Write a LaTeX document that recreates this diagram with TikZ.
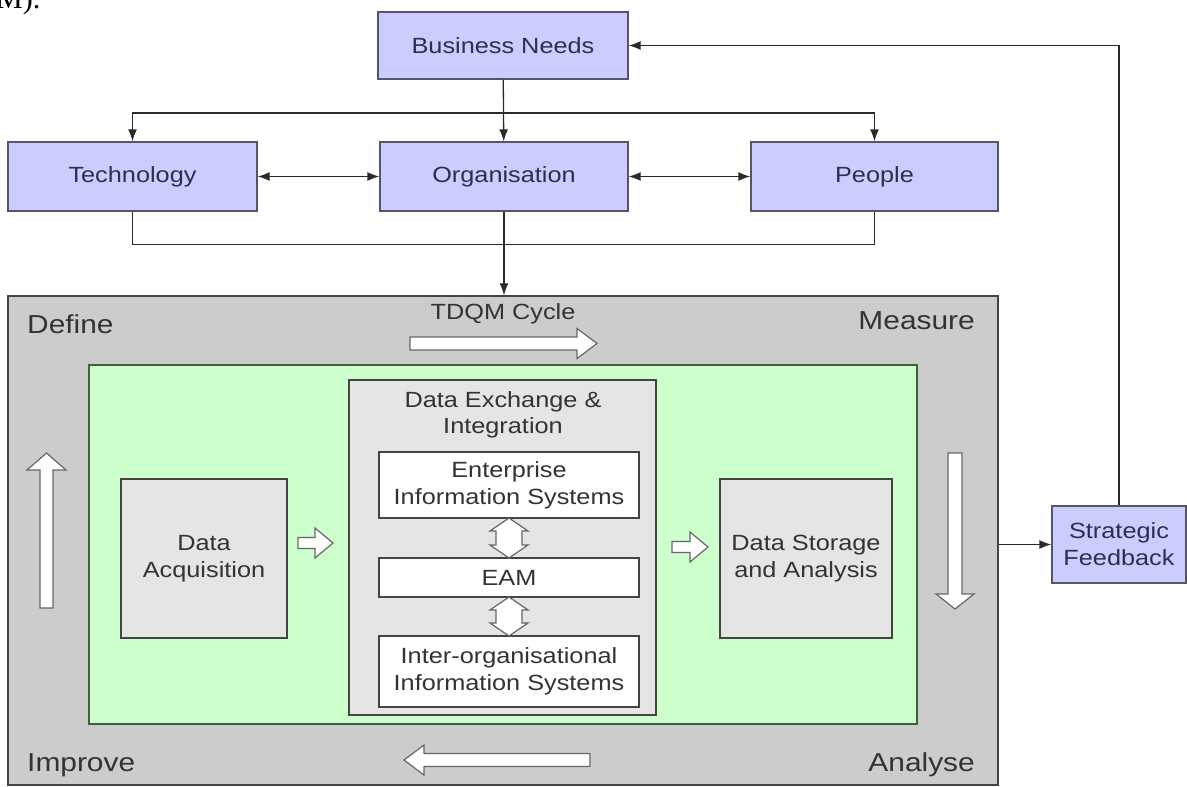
\documentclass[tikz,border=0pt]{standalone}
\usepackage{fontspec}
\setmainfont[FakeStretch=1.15]{Liberation Sans}
\newfontfamily\capfont{Liberation Serif}
\usepackage{xcolor}
\definecolor{boxblue}{HTML}{CCCCFF}
\definecolor{edgeblue}{HTML}{555566}
\definecolor{textnavy}{HTML}{2E2E50}
\definecolor{cyclegray}{HTML}{CCCCCC}
\definecolor{edgedark}{HTML}{444444}
\definecolor{flowgreen}{HTML}{CCFFCC}
\definecolor{edgegreen}{HTML}{3F5F3F}
\definecolor{stagegray}{HTML}{E5E5E5}
\definecolor{textgray}{HTML}{333333}
\definecolor{linkgray}{HTML}{2A2A2A}
\usetikzlibrary{arrows.meta,calc}

\tikzset{
  topbox/.style={draw=edgeblue, line width=1.3pt, fill=boxblue, text=textnavy,
    font=\fontsize{22}{27}\selectfont, align=center, inner sep=0pt},
  stagebox/.style={draw=edgedark, line width=1.3pt, fill=stagegray, text=textgray,
    font=\fontsize{22}{27}\selectfont, align=center, inner sep=0pt},
  sysbox/.style={stagebox, fill=white},
  phase/.style={text=textgray, font=\fontsize{26}{30}\selectfont, inner sep=0pt},
  link/.style={draw=linkgray, line width=1.3pt, -{Latex[length=12pt,width=9pt]}},
  link2/.style={link, {Latex[length=12pt,width=9pt]}-{Latex[length=12pt,width=9pt]}},
  plain/.style={draw=linkgray, line width=1.3pt},
  hollow/.style={draw=black!60, line width=1.2pt, fill=white, line join=miter}
}

\begin{document}
\begin{tikzpicture}[x=1pt, y=-1pt]
  \useasboundingbox (0,0) rectangle (1187,787);

  % caption text running above the figure
  \node[anchor=base west, font=\capfont\fontsize{30}{30}\selectfont, text=black, inner sep=0pt] (capfrag) at (-4,9) {M).};

  % business layer
  \node[topbox, minimum width=250, minimum height=67] (need) at (503,45.5) {Business Needs};
  \node[topbox, minimum width=249, minimum height=69] (tech) at (132.5,176.5) {Technology};
  \node[topbox, minimum width=248, minimum height=69] (org) at (504,176.5) {Organisation};
  \node[topbox, minimum width=247, minimum height=69] (ppl) at (874.5,176.5) {People};
  \node[topbox, minimum width=134, minimum height=77] (feedback) at (1119,544.5) {Strategic\\Feedback};

  % TDQM cycle
  \node[draw=edgedark, line width=1.5pt, fill=cyclegray, minimum width=990, minimum height=489, inner sep=0pt] (tdqm) at (503,540.5) {};
  \node[draw=edgegreen, line width=1.5pt, fill=flowgreen, minimum width=828, minimum height=359, inner sep=0pt] (flow) at (503,544.5) {};

  \node[phase, anchor=west] (define) at (27,324) {Define};
  \node[phase, anchor=east] (measure) at (975,321) {Measure};
  \node[phase, anchor=west] (improve) at (27,765) {Improve};
  \node[phase, anchor=east] (analyse) at (975,765) {Analyse};
  \node[text=textgray, font=\fontsize{22}{27}\selectfont, inner sep=0pt] (cyclename) at (503,314) {TDQM Cycle};

  % data flow
  \node[stagebox, minimum width=166, minimum height=159] (acq) at (204,558.5) {Data\\Acquisition};
  \node[stagebox, minimum width=307, minimum height=335] (exch) at (502.5,547.5) {};
  \node[text=textgray, font=\fontsize{22}{26}\selectfont, align=center, inner sep=0pt] (exchtitle) at (503,415) {Data Exchange \&\\Integration};
  \node[sysbox, minimum width=260, minimum height=66] (eis) at (509,485) {Enterprise\\Information Systems};
  \node[sysbox, minimum width=260, minimum height=39] (eam) at (509,577.5) {EAM};
  \node[sysbox, minimum width=260, minimum height=71] (ios) at (509,671.5) {Inter-organisational\\Information Systems};
  \node[stagebox, minimum width=172, minimum height=159] (store) at (806,558.5) {Data Storage\\and Analysis};

  % hollow block arrows
  \draw[hollow] (410,337) -- (577,337) -- (577,328.5) -- (597,343.5) -- (577,358.5) -- (577,350) -- (410,350) -- cycle;
  \draw[hollow] (590,753.5) -- (424,753.5) -- (424,745) -- (404,760) -- (424,775) -- (424,766.5) -- (590,766.5) -- cycle;
  \draw[hollow] (40,608) -- (40,470) -- (27,470) -- (46.5,453) -- (66,470) -- (53,470) -- (53,608) -- cycle;
  \draw[hollow] (948,453) -- (962,453) -- (962,594) -- (974,594) -- (955,609) -- (936,594) -- (948,594) -- cycle;
  \draw[hollow] (298,537.5) -- (315,537.5) -- (315,528) -- (333,543) -- (315,558) -- (315,548.5) -- (298,548.5) -- cycle;
  \draw[hollow] (672,541.5) -- (690,541.5) -- (690,532) -- (708,547) -- (690,562) -- (690,552.5) -- (672,552.5) -- cycle;
  \draw[hollow] (509,518) -- (528,531) -- (522,531) -- (522,545) -- (528,545) -- (509,558) -- (490,545) -- (496,545) -- (496,531) -- (490,531) -- cycle;
  \draw[hollow] (509,597) -- (528,610) -- (522,610) -- (522,623) -- (528,623) -- (509,636) -- (490,623) -- (496,623) -- (496,610) -- (490,610) -- cycle;

  % connectors
  \coordinate (split) at (503,113);
  \draw[link] (need) -- (org);
  \draw[link] (split) -| (tech);
  \draw[link] (split) -| (ppl);
  \draw[link2] (tech) -- (org);
  \draw[link2] (org) -- (ppl);
  \draw[plain] (tech.south) -- ++(0,33) -| (ppl.south);
  \draw[link] (org) -- (org |- tdqm.north);
  \draw[link] (tdqm.east |- feedback) -- (feedback);
  \draw[link] (feedback.north) |- (need.east);
\end{tikzpicture}
\end{document}
